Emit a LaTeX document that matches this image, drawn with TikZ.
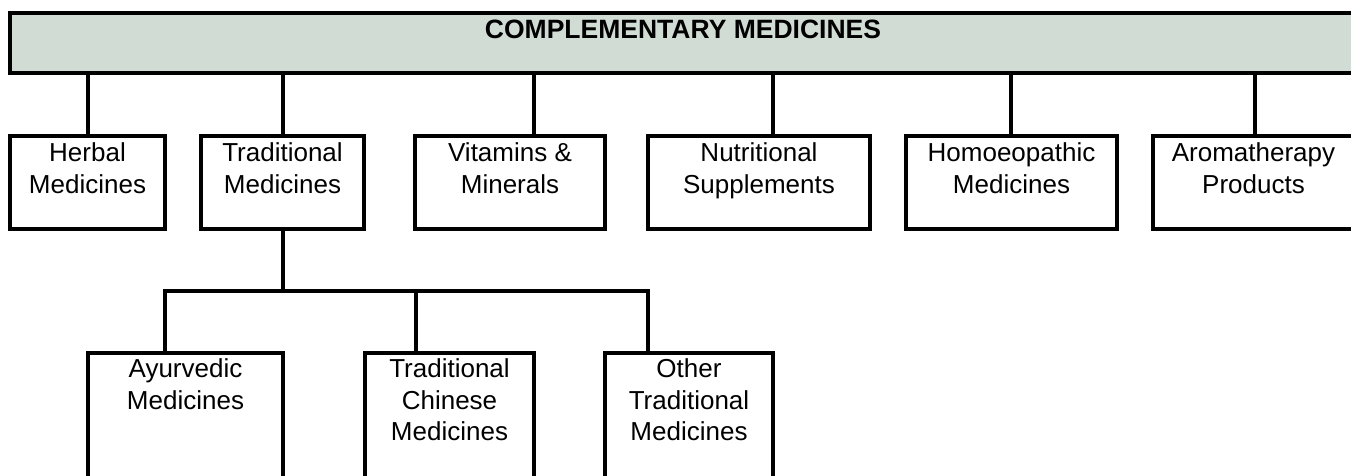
\documentclass[tikz,border=0pt]{standalone}
\usepackage{fontspec}
\setmainfont{Liberation Sans}
\usetikzlibrary{calc,positioning}
\definecolor{bannerfill}{RGB}{209,220,212}
\tikzset{
  box/.style={draw=black, line width=3.4pt, rectangle, inner sep=0pt, outer sep=0pt, anchor=north west},
  lbl/.style={inner sep=0pt, outer sep=0pt, align=center, font=\fontsize{26}{31.5}\selectfont},
  ttl/.style={inner sep=0pt, outer sep=0pt, anchor=base, font=\fontsize{26.5}{31.5}\selectfont\bfseries},
  conn/.style={draw=black, line width=3.4pt}
}
\begin{document}
\begin{tikzpicture}[x=1pt,y=-1pt]
\clip (0,0) rectangle (1351,475);
\fill[white] (0,0) rectangle (1351,475);
% banner
\node[box, fill=bannerfill, minimum width=1346pt, minimum height=60pt] (banner) at (10,13) {};
\node[ttl] (title) at ($(banner.north)+(0,25)$) {COMPLEMENTARY MEDICINES};
% row 1
\node[box, minimum width=155pt, minimum height=93pt] (herbal) at (10,136) {};
\node[box, minimum width=163pt, minimum height=93pt] (trad) at (201,136) {};
\node[box, minimum width=190pt, minimum height=93pt] (vit) at (415,136) {};
\node[box, minimum width=222pt, minimum height=93pt] (nutr) at (648,136) {};
\node[box, minimum width=211pt, minimum height=93pt] (homo) at (906,136) {};
\node[box, minimum width=201pt, minimum height=93pt] (aroma) at (1153,136) {};
\node[lbl, below=7pt of herbal.north] (t1) {Herbal\\Medicines};
\node[lbl, below=7pt of trad.north] (t2) {Traditional\\Medicines};
\node[lbl, below=7pt of vit.north] (t3) {Vitamins \&\\Minerals};
\node[lbl, below=7pt of nutr.north] (t4) {Nutritional\\Supplements};
\node[lbl, below=7pt of homo.north] (t5) {Homoeopathic\\Medicines};
\node[lbl, below=7pt of aroma.north] (t6) {Aromatherapy\\Products};
% row 2
\node[box, minimum width=195pt, minimum height=150pt] (ayur) at (88,353) {};
\node[box, minimum width=169pt, minimum height=150pt] (chin) at (365,353) {};
\node[box, minimum width=168pt, minimum height=150pt] (other) at (605,353) {};
\node[lbl, below=6pt of ayur.north] (t7) {Ayurvedic\\Medicines};
\node[lbl, below=6pt of chin.north] (t8) {Traditional\\Chinese\\Medicines};
\node[lbl, below=6pt of other.north] (t9) {Other\\Traditional\\Medicines};
% connectors from banner
\coordinate (c1) at (88,73);
\coordinate (c2) at (283,73);
\coordinate (c3) at (534,73);
\coordinate (c4) at (773,73);
\coordinate (c5) at (1011,73);
\coordinate (c6) at (1255,73);
\draw[conn] (c1) -- (c1 |- herbal.north);
\draw[conn] (c2) -- (c2 |- trad.north);
\draw[conn] (c3) -- (c3 |- vit.north);
\draw[conn] (c4) -- (c4 |- nutr.north);
\draw[conn] (c5) -- (c5 |- homo.north);
\draw[conn] (c6) -- (c6 |- aroma.north);
% sub-tree
\coordinate (tb) at (283,229);
\coordinate (bar) at (283,291);
\coordinate (bl) at (165,291);
\coordinate (bm) at (416,291);
\coordinate (br) at (648,291);
\draw[conn] (tb) -- (bar);
\draw[conn, line cap=rect] (bl) -- (br);
\draw[conn] (bl) -- (bl |- ayur.north);
\draw[conn] (bm) -- (bm |- chin.north);
\draw[conn] (br) -- (br |- other.north);
\end{tikzpicture}
\end{document}
